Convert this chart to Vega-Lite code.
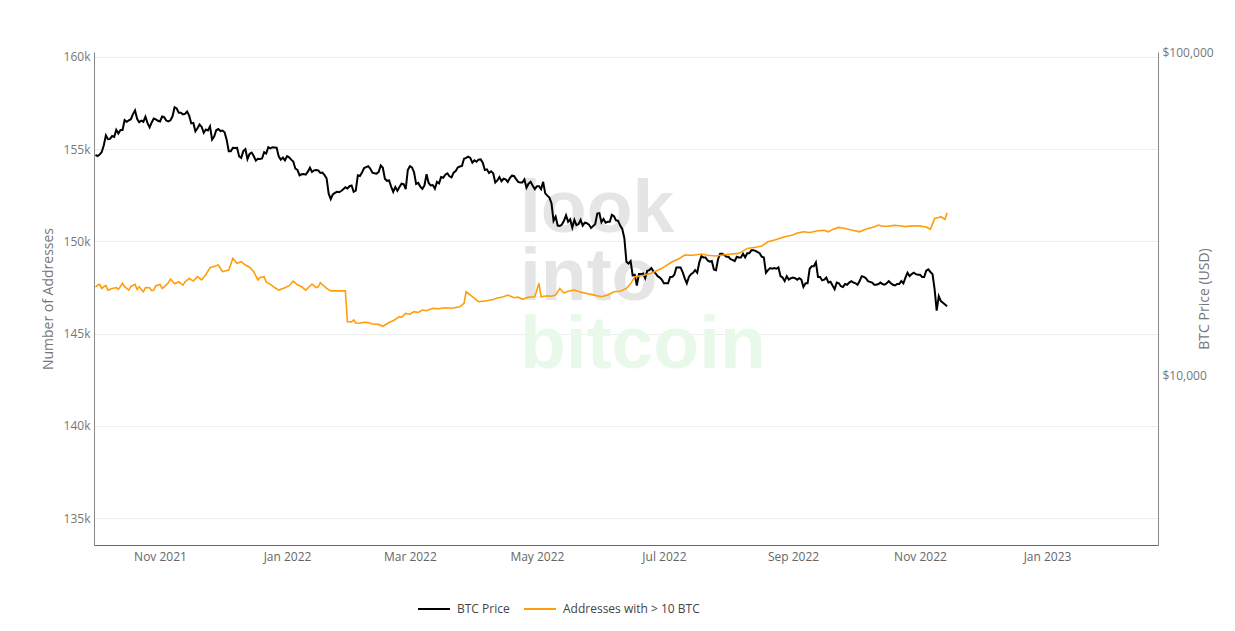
{
  "$schema": "https://vega.github.io/schema/vega-lite/v6.json",
  "autosize": {"type": "none"},
  "width": 1064,
  "height": 493,
  "padding": {"left": 94, "top": 52, "right": 77, "bottom": 86},
  "background": "#ffffff",
  "config": {
    "view": {"stroke": null},
    "font": "Open Sans",
    "axis": {"labelFont": "Open Sans", "titleFont": "Open Sans", "labelColor": "#777777", "titleColor": "#777777", "labelFontSize": 12, "titleFontSize": 14, "titleFontWeight": "normal", "domainColor": "#888888", "ticks": false, "gridColor": "#eeeeee", "gridWidth": 1}
  },
  "datasets": {
    "btc": [
      {"d":"2021-10-01","p":48100},{"d":"2021-10-02","p":47700},{"d":"2021-10-03","p":48200},{"d":"2021-10-04","p":49100},{"d":"2021-10-05","p":51500},{"d":"2021-10-06","p":55300},{"d":"2021-10-07","p":53800},{"d":"2021-10-08","p":53900},{"d":"2021-10-09","p":55000},{"d":"2021-10-10","p":54700},
      {"d":"2021-10-11","p":57500},{"d":"2021-10-12","p":56000},{"d":"2021-10-13","p":57400},{"d":"2021-10-14","p":57400},{"d":"2021-10-15","p":61600},{"d":"2021-10-16","p":60900},{"d":"2021-10-17","p":61500},{"d":"2021-10-18","p":62000},{"d":"2021-10-19","p":64300},{"d":"2021-10-20","p":66000},
      {"d":"2021-10-21","p":62200},{"d":"2021-10-22","p":60700},{"d":"2021-10-23","p":61400},{"d":"2021-10-24","p":60900},{"d":"2021-10-25","p":63100},{"d":"2021-10-26","p":60300},{"d":"2021-10-27","p":58500},{"d":"2021-10-28","p":60600},{"d":"2021-10-29","p":62300},{"d":"2021-10-30","p":61900},
      {"d":"2021-10-31","p":61300},{"d":"2021-11-01","p":61000},{"d":"2021-11-02","p":63200},{"d":"2021-11-03","p":62900},{"d":"2021-11-04","p":61400},{"d":"2021-11-05","p":61000},{"d":"2021-11-06","p":61500},{"d":"2021-11-07","p":63300},{"d":"2021-11-08","p":67500},{"d":"2021-11-09","p":66900},
      {"d":"2021-11-10","p":64900},{"d":"2021-11-11","p":64900},{"d":"2021-11-12","p":64200},{"d":"2021-11-13","p":64400},{"d":"2021-11-14","p":65500},{"d":"2021-11-15","p":63600},{"d":"2021-11-16","p":60200},{"d":"2021-11-17","p":60400},{"d":"2021-11-18","p":56900},{"d":"2021-11-19","p":58100},
      {"d":"2021-11-20","p":59700},{"d":"2021-11-21","p":58700},{"d":"2021-11-22","p":56300},{"d":"2021-11-23","p":57600},{"d":"2021-11-24","p":57200},{"d":"2021-11-25","p":58900},{"d":"2021-11-26","p":53600},{"d":"2021-11-27","p":54800},{"d":"2021-11-28","p":57300},{"d":"2021-11-29","p":57800},
      {"d":"2021-11-30","p":57000},{"d":"2021-12-01","p":57200},{"d":"2021-12-02","p":56500},{"d":"2021-12-03","p":53600},{"d":"2021-12-04","p":49400},{"d":"2021-12-05","p":49400},{"d":"2021-12-06","p":50600},{"d":"2021-12-07","p":50500},{"d":"2021-12-08","p":50600},{"d":"2021-12-09","p":47600},
      {"d":"2021-12-10","p":47100},{"d":"2021-12-11","p":49400},{"d":"2021-12-12","p":50100},{"d":"2021-12-13","p":46700},{"d":"2021-12-14","p":48400},{"d":"2021-12-15","p":48900},{"d":"2021-12-16","p":47700},{"d":"2021-12-17","p":46200},{"d":"2021-12-18","p":46800},{"d":"2021-12-19","p":46700},
      {"d":"2021-12-20","p":46900},{"d":"2021-12-21","p":49000},{"d":"2021-12-22","p":48600},{"d":"2021-12-23","p":50800},{"d":"2021-12-24","p":50400},{"d":"2021-12-25","p":50800},{"d":"2021-12-26","p":50700},{"d":"2021-12-27","p":50600},{"d":"2021-12-28","p":47600},{"d":"2021-12-29","p":46500},
      {"d":"2021-12-30","p":47200},{"d":"2021-12-31","p":46300},{"d":"2022-01-01","p":47700},{"d":"2022-01-02","p":47300},{"d":"2022-01-03","p":46500},{"d":"2022-01-04","p":45900},{"d":"2022-01-05","p":43600},{"d":"2022-01-06","p":43200},{"d":"2022-01-07","p":41600},{"d":"2022-01-08","p":41900},
      {"d":"2022-01-09","p":42000},{"d":"2022-01-10","p":41800},{"d":"2022-01-11","p":42700},{"d":"2022-01-12","p":43900},{"d":"2022-01-13","p":42600},{"d":"2022-01-14","p":43100},{"d":"2022-01-15","p":43200},{"d":"2022-01-16","p":43100},{"d":"2022-01-17","p":42300},{"d":"2022-01-18","p":42400},
      {"d":"2022-01-19","p":41700},{"d":"2022-01-20","p":40700},{"d":"2022-01-21","p":36500},{"d":"2022-01-22","p":35100},{"d":"2022-01-23","p":36300},{"d":"2022-01-24","p":36700},{"d":"2022-01-25","p":37000},{"d":"2022-01-26","p":36900},{"d":"2022-01-27","p":37200},{"d":"2022-01-28","p":37700},
      {"d":"2022-01-29","p":38200},{"d":"2022-01-30","p":37900},{"d":"2022-01-31","p":38500},{"d":"2022-02-01","p":38700},{"d":"2022-02-02","p":37000},{"d":"2022-02-03","p":37300},{"d":"2022-02-04","p":41600},{"d":"2022-02-05","p":41400},{"d":"2022-02-06","p":42400},{"d":"2022-02-07","p":43800},
      {"d":"2022-02-08","p":44100},{"d":"2022-02-09","p":44400},{"d":"2022-02-10","p":43600},{"d":"2022-02-11","p":42400},{"d":"2022-02-12","p":42200},{"d":"2022-02-13","p":42100},{"d":"2022-02-14","p":42600},{"d":"2022-02-15","p":44600},{"d":"2022-02-16","p":43900},{"d":"2022-02-17","p":40600},
      {"d":"2022-02-18","p":40000},{"d":"2022-02-19","p":40100},{"d":"2022-02-20","p":38400},{"d":"2022-02-21","p":37000},{"d":"2022-02-22","p":38300},{"d":"2022-02-23","p":37300},{"d":"2022-02-24","p":38300},{"d":"2022-02-25","p":39200},{"d":"2022-02-26","p":39100},{"d":"2022-02-27","p":37700},
      {"d":"2022-02-28","p":43200},{"d":"2022-03-01","p":44400},{"d":"2022-03-02","p":44000},{"d":"2022-03-03","p":42500},{"d":"2022-03-04","p":39100},{"d":"2022-03-05","p":39400},{"d":"2022-03-06","p":38400},{"d":"2022-03-07","p":37800},{"d":"2022-03-08","p":38700},{"d":"2022-03-09","p":41900},
      {"d":"2022-03-10","p":39400},{"d":"2022-03-11","p":38700},{"d":"2022-03-12","p":38800},{"d":"2022-03-13","p":37800},{"d":"2022-03-14","p":39700},{"d":"2022-03-15","p":39300},{"d":"2022-03-16","p":41100},{"d":"2022-03-17","p":40900},{"d":"2022-03-18","p":41800},{"d":"2022-03-19","p":42200},
      {"d":"2022-03-20","p":41300},{"d":"2022-03-21","p":41000},{"d":"2022-03-22","p":42400},{"d":"2022-03-23","p":42900},{"d":"2022-03-24","p":44000},{"d":"2022-03-25","p":44300},{"d":"2022-03-26","p":44500},{"d":"2022-03-27","p":46800},{"d":"2022-03-28","p":47100},{"d":"2022-03-29","p":47500},
      {"d":"2022-03-30","p":47100},{"d":"2022-03-31","p":45500},{"d":"2022-04-01","p":46300},{"d":"2022-04-02","p":45800},{"d":"2022-04-03","p":46500},{"d":"2022-04-04","p":46600},{"d":"2022-04-05","p":45500},{"d":"2022-04-06","p":43200},{"d":"2022-04-07","p":43400},{"d":"2022-04-08","p":42300},
      {"d":"2022-04-09","p":42800},{"d":"2022-04-10","p":42200},{"d":"2022-04-11","p":39500},{"d":"2022-04-12","p":40100},{"d":"2022-04-13","p":41100},{"d":"2022-04-14","p":39900},{"d":"2022-04-15","p":40600},{"d":"2022-04-16","p":40400},{"d":"2022-04-17","p":39700},{"d":"2022-04-18","p":40800},
      {"d":"2022-04-19","p":41500},{"d":"2022-04-20","p":41400},{"d":"2022-04-21","p":40500},{"d":"2022-04-22","p":39700},{"d":"2022-04-23","p":39500},{"d":"2022-04-24","p":39500},{"d":"2022-04-25","p":40400},{"d":"2022-04-26","p":38100},{"d":"2022-04-27","p":39200},{"d":"2022-04-28","p":39700},
      {"d":"2022-04-29","p":38600},{"d":"2022-04-30","p":37700},{"d":"2022-05-01","p":38500},{"d":"2022-05-02","p":38500},{"d":"2022-05-03","p":37700},{"d":"2022-05-04","p":39700},{"d":"2022-05-05","p":36600},{"d":"2022-05-06","p":36000},{"d":"2022-05-07","p":35500},{"d":"2022-05-08","p":34100},
      {"d":"2022-05-09","p":30100},{"d":"2022-05-10","p":31000},{"d":"2022-05-11","p":29100},{"d":"2022-05-12","p":29000},{"d":"2022-05-13","p":29300},{"d":"2022-05-14","p":30100},{"d":"2022-05-15","p":31300},{"d":"2022-05-16","p":29900},{"d":"2022-05-17","p":30400},{"d":"2022-05-18","p":28700},
      {"d":"2022-05-19","p":30300},{"d":"2022-05-20","p":29200},{"d":"2022-05-21","p":29400},{"d":"2022-05-22","p":30300},{"d":"2022-05-23","p":29100},{"d":"2022-05-24","p":29700},{"d":"2022-05-25","p":29600},{"d":"2022-05-26","p":29300},{"d":"2022-05-27","p":28600},{"d":"2022-05-28","p":29000},
      {"d":"2022-05-29","p":29400},{"d":"2022-05-30","p":31700},{"d":"2022-05-31","p":31800},{"d":"2022-06-01","p":29800},{"d":"2022-06-02","p":30500},{"d":"2022-06-03","p":29700},{"d":"2022-06-04","p":29900},{"d":"2022-06-05","p":29900},{"d":"2022-06-06","p":31400},{"d":"2022-06-07","p":31100},
      {"d":"2022-06-08","p":30200},{"d":"2022-06-09","p":30100},{"d":"2022-06-10","p":29100},{"d":"2022-06-11","p":28400},{"d":"2022-06-12","p":26600},{"d":"2022-06-13","p":22500},{"d":"2022-06-14","p":22200},{"d":"2022-06-15","p":22600},{"d":"2022-06-16","p":20400},{"d":"2022-06-17","p":20500},
      {"d":"2022-06-18","p":19000},{"d":"2022-06-19","p":20600},{"d":"2022-06-20","p":20600},{"d":"2022-06-21","p":20700},{"d":"2022-06-22","p":20000},{"d":"2022-06-23","p":21100},{"d":"2022-06-24","p":21200},{"d":"2022-06-25","p":21500},{"d":"2022-06-26","p":21000},{"d":"2022-06-27","p":20700},
      {"d":"2022-06-28","p":20300},{"d":"2022-06-29","p":20100},{"d":"2022-06-30","p":19800},{"d":"2022-07-01","p":19300},{"d":"2022-07-02","p":19300},{"d":"2022-07-03","p":19300},{"d":"2022-07-04","p":20200},{"d":"2022-07-05","p":20200},{"d":"2022-07-06","p":20500},{"d":"2022-07-07","p":21600},
      {"d":"2022-07-08","p":21600},{"d":"2022-07-09","p":21600},{"d":"2022-07-10","p":20900},{"d":"2022-07-11","p":20000},{"d":"2022-07-12","p":19300},{"d":"2022-07-13","p":20200},{"d":"2022-07-14","p":20600},{"d":"2022-07-15","p":20800},{"d":"2022-07-16","p":21200},{"d":"2022-07-17","p":20800},
      {"d":"2022-07-18","p":22400},{"d":"2022-07-19","p":23400},{"d":"2022-07-20","p":23200},{"d":"2022-07-21","p":23200},{"d":"2022-07-22","p":22700},{"d":"2022-07-23","p":22500},{"d":"2022-07-24","p":22600},{"d":"2022-07-25","p":21300},{"d":"2022-07-26","p":21200},{"d":"2022-07-27","p":22900},
      {"d":"2022-07-28","p":23800},{"d":"2022-07-29","p":23800},{"d":"2022-07-30","p":23600},{"d":"2022-07-31","p":23300},{"d":"2022-08-01","p":23300},{"d":"2022-08-02","p":22900},{"d":"2022-08-03","p":22800},{"d":"2022-08-04","p":22600},{"d":"2022-08-05","p":23300},{"d":"2022-08-06","p":23200},
      {"d":"2022-08-07","p":23200},{"d":"2022-08-08","p":23800},{"d":"2022-08-09","p":23200},{"d":"2022-08-10","p":23900},{"d":"2022-08-11","p":23900},{"d":"2022-08-12","p":24400},{"d":"2022-08-13","p":24400},{"d":"2022-08-14","p":24300},{"d":"2022-08-15","p":24100},{"d":"2022-08-16","p":23900},
      {"d":"2022-08-17","p":23300},{"d":"2022-08-18","p":23200},{"d":"2022-08-19","p":20800},{"d":"2022-08-20","p":21200},{"d":"2022-08-21","p":21500},{"d":"2022-08-22","p":21400},{"d":"2022-08-23","p":21500},{"d":"2022-08-24","p":21400},{"d":"2022-08-25","p":21600},{"d":"2022-08-26","p":20300},
      {"d":"2022-08-27","p":20100},{"d":"2022-08-28","p":19600},{"d":"2022-08-29","p":20300},{"d":"2022-08-30","p":19800},{"d":"2022-08-31","p":20000},{"d":"2022-09-01","p":20100},{"d":"2022-09-02","p":20000},{"d":"2022-09-03","p":19800},{"d":"2022-09-04","p":20000},{"d":"2022-09-05","p":19800},
      {"d":"2022-09-06","p":18800},{"d":"2022-09-07","p":19300},{"d":"2022-09-08","p":19300},{"d":"2022-09-09","p":21400},{"d":"2022-09-10","p":21800},{"d":"2022-09-11","p":21800},{"d":"2022-09-12","p":22400},{"d":"2022-09-13","p":20200},{"d":"2022-09-14","p":20200},{"d":"2022-09-15","p":19700},
      {"d":"2022-09-16","p":19800},{"d":"2022-09-17","p":20100},{"d":"2022-09-18","p":19400},{"d":"2022-09-19","p":19500},{"d":"2022-09-20","p":19000},{"d":"2022-09-21","p":18500},{"d":"2022-09-22","p":19400},{"d":"2022-09-23","p":19300},{"d":"2022-09-24","p":18900},{"d":"2022-09-25","p":18800},
      {"d":"2022-09-26","p":19200},{"d":"2022-09-27","p":19100},{"d":"2022-09-28","p":19400},{"d":"2022-09-29","p":19600},{"d":"2022-09-30","p":19400},{"d":"2022-10-01","p":19300},{"d":"2022-10-02","p":19100},{"d":"2022-10-03","p":19600},{"d":"2022-10-04","p":20300},{"d":"2022-10-05","p":20200},
      {"d":"2022-10-06","p":20000},{"d":"2022-10-07","p":19600},{"d":"2022-10-08","p":19500},{"d":"2022-10-09","p":19400},{"d":"2022-10-10","p":19100},{"d":"2022-10-11","p":19100},{"d":"2022-10-12","p":19200},{"d":"2022-10-13","p":19400},{"d":"2022-10-14","p":19200},{"d":"2022-10-15","p":19100},
      {"d":"2022-10-16","p":19300},{"d":"2022-10-17","p":19600},{"d":"2022-10-18","p":19300},{"d":"2022-10-19","p":19100},{"d":"2022-10-20","p":19000},{"d":"2022-10-21","p":19200},{"d":"2022-10-22","p":19200},{"d":"2022-10-23","p":19600},{"d":"2022-10-24","p":19300},{"d":"2022-10-25","p":20100},
      {"d":"2022-10-26","p":20800},{"d":"2022-10-27","p":20300},{"d":"2022-10-28","p":20600},{"d":"2022-10-29","p":20800},{"d":"2022-10-30","p":20600},{"d":"2022-10-31","p":20500},{"d":"2022-11-01","p":20500},{"d":"2022-11-02","p":20200},{"d":"2022-11-03","p":20200},{"d":"2022-11-04","p":21100},
      {"d":"2022-11-05","p":21300},{"d":"2022-11-06","p":20900},{"d":"2022-11-07","p":20600},{"d":"2022-11-08","p":18500},{"d":"2022-11-09","p":15900},{"d":"2022-11-10","p":17600},{"d":"2022-11-11","p":17000},{"d":"2022-11-12","p":16800},{"d":"2022-11-13","p":16600},{"d":"2022-11-14","p":16400}
    ],
    "addr": [
      {"d":"2021-10-01","a":147540},{"d":"2021-10-02","a":147620},{"d":"2021-10-03","a":147670},{"d":"2021-10-04","a":147450},{"d":"2021-10-05","a":147540},{"d":"2021-10-06","a":147600},{"d":"2021-10-07","a":147360},{"d":"2021-10-09","a":147450},{"d":"2021-10-11","a":147490},{"d":"2021-10-12","a":147400},{"d":"2021-10-14","a":147730},{"d":"2021-10-15","a":147550},{"d":"2021-10-17","a":147360},{"d":"2021-10-18","a":147560},{"d":"2021-10-20","a":147670},{"d":"2021-10-21","a":147400},{"d":"2021-10-22","a":147540},
      {"d":"2021-10-24","a":147270},{"d":"2021-10-25","a":147500},{"d":"2021-10-27","a":147490},{"d":"2021-10-28","a":147330},{"d":"2021-10-29","a":147360},{"d":"2021-10-30","a":147600},{"d":"2021-11-01","a":147670},{"d":"2021-11-02","a":147450},{"d":"2021-11-03","a":147540},{"d":"2021-11-05","a":147760},{"d":"2021-11-06","a":147960},{"d":"2021-11-08","a":147700},{"d":"2021-11-10","a":147810},{"d":"2021-11-12","a":147630},{"d":"2021-11-13","a":147800},{"d":"2021-11-15","a":148000},{"d":"2021-11-17","a":147850},
      {"d":"2021-11-19","a":148090},{"d":"2021-11-21","a":147910},{"d":"2021-11-23","a":148200},{"d":"2021-11-25","a":148570},{"d":"2021-11-27","a":148640},{"d":"2021-11-29","a":148720},{"d":"2021-12-01","a":148360},{"d":"2021-12-04","a":148450},{"d":"2021-12-06","a":149080},{"d":"2021-12-08","a":148810},{"d":"2021-12-10","a":148900},{"d":"2021-12-12","a":148720},{"d":"2021-12-14","a":148600},{"d":"2021-12-16","a":148360},
      {"d":"2021-12-18","a":147910},{"d":"2021-12-19","a":148050},{"d":"2021-12-21","a":148090},{"d":"2021-12-22","a":147800},{"d":"2021-12-24","a":147670},{"d":"2021-12-26","a":147500},{"d":"2021-12-28","a":147360},{"d":"2021-12-31","a":147490},{"d":"2022-01-02","a":147600},{"d":"2022-01-04","a":147850},{"d":"2022-01-06","a":147650},{"d":"2022-01-08","a":147540},{"d":"2022-01-10","a":147360},{"d":"2022-01-13","a":147690},{"d":"2022-01-15","a":147500},{"d":"2022-01-16","a":147540},
      {"d":"2022-01-17","a":147760},{"d":"2022-01-20","a":147450},{"d":"2022-01-22","a":147320},{"d":"2022-01-29","a":147320},{"d":"2022-01-30","a":145650},{"d":"2022-02-01","a":145640},{"d":"2022-02-02","a":145740},{"d":"2022-02-03","a":145580},{"d":"2022-02-05","a":145560},{"d":"2022-02-07","a":145620},{"d":"2022-02-09","a":145600},{"d":"2022-02-11","a":145520},{"d":"2022-02-14","a":145500},{"d":"2022-02-16","a":145400},
      {"d":"2022-02-19","a":145600},{"d":"2022-02-21","a":145700},{"d":"2022-02-24","a":145920},{"d":"2022-02-25","a":145880},{"d":"2022-02-27","a":146100},{"d":"2022-03-01","a":146050},{"d":"2022-03-03","a":146190},{"d":"2022-03-05","a":146150},{"d":"2022-03-07","a":146280},{"d":"2022-03-09","a":146240},{"d":"2022-03-12","a":146370},{"d":"2022-03-15","a":146350},{"d":"2022-03-18","a":146400},{"d":"2022-03-21","a":146380},{"d":"2022-03-25","a":146460},{"d":"2022-03-27","a":146640},{"d":"2022-03-28","a":147270},
      {"d":"2022-03-31","a":147000},{"d":"2022-04-03","a":146730},{"d":"2022-04-05","a":146760},{"d":"2022-04-07","a":146780},{"d":"2022-04-10","a":146850},{"d":"2022-04-12","a":146930},{"d":"2022-04-15","a":147000},{"d":"2022-04-17","a":147090},{"d":"2022-04-20","a":146950},{"d":"2022-04-22","a":146980},{"d":"2022-04-24","a":146860},{"d":"2022-04-27","a":146980},{"d":"2022-04-30","a":147000},{"d":"2022-05-02","a":147730},{"d":"2022-05-03","a":147000},{"d":"2022-05-06","a":147050},{"d":"2022-05-08","a":147030},
      {"d":"2022-05-10","a":147100},{"d":"2022-05-12","a":147450},{"d":"2022-05-14","a":147200},{"d":"2022-05-16","a":147300},{"d":"2022-05-19","a":147360},{"d":"2022-05-22","a":147250},{"d":"2022-05-25","a":147180},{"d":"2022-05-28","a":147100},{"d":"2022-06-01","a":147000},{"d":"2022-06-04","a":147100},{"d":"2022-06-07","a":147270},{"d":"2022-06-10","a":147300},{"d":"2022-06-13","a":147450},{"d":"2022-06-15","a":147700},{"d":"2022-06-17","a":148090},{"d":"2022-06-21","a":148150},{"d":"2022-06-25","a":148270},{"d":"2022-06-30","a":148540},
      {"d":"2022-07-05","a":148900},{"d":"2022-07-08","a":149050},{"d":"2022-07-11","a":149260},{"d":"2022-07-15","a":149250},{"d":"2022-07-19","a":149320},{"d":"2022-07-22","a":149250},{"d":"2022-07-26","a":149210},{"d":"2022-08-01","a":149300},{"d":"2022-08-06","a":149350},{"d":"2022-08-10","a":149620},{"d":"2022-08-14","a":149680},{"d":"2022-08-17","a":149750},{"d":"2022-08-20","a":149980},{"d":"2022-08-24","a":150100},{"d":"2022-08-28","a":150250},
      {"d":"2022-09-01","a":150350},{"d":"2022-09-03","a":150450},{"d":"2022-09-06","a":150520},{"d":"2022-09-09","a":150480},{"d":"2022-09-13","a":150580},{"d":"2022-09-16","a":150600},{"d":"2022-09-18","a":150520},{"d":"2022-09-20","a":150650},{"d":"2022-09-23","a":150760},{"d":"2022-09-26","a":150700},{"d":"2022-09-29","a":150620},{"d":"2022-10-03","a":150520},{"d":"2022-10-05","a":150620},{"d":"2022-10-07","a":150700},{"d":"2022-10-10","a":150780},{"d":"2022-10-12","a":150890},{"d":"2022-10-14","a":150820},{"d":"2022-10-17","a":150830},
      {"d":"2022-10-20","a":150880},{"d":"2022-10-22","a":150850},{"d":"2022-10-25","a":150800},{"d":"2022-10-27","a":150830},{"d":"2022-10-30","a":150850},{"d":"2022-11-01","a":150830},{"d":"2022-11-04","a":150780},{"d":"2022-11-06","a":150660},{"d":"2022-11-08","a":151250},{"d":"2022-11-10","a":151300},{"d":"2022-11-11","a":151340},{"d":"2022-11-13","a":151200},{"d":"2022-11-14","a":151560}
    ]
  },
  "layer": [
    {
      "data": {"values": [{"t": "look", "v": 150510}, {"t": "into", "v": 146820}]},
      "mark": {"type": "text", "align": "left", "baseline": "alphabetic", "font": "Liberation Sans", "fontWeight": "bold", "fontSize": 75, "color": "#e5e5e5"},
      "encoding": {
        "x": {"datum": 1650661200000, "type": "temporal", "scale": {"domain": ["2021-09-30T07:00:00", "2023-02-23T07:00:00"]}, "axis": {"title": null, "format": "%b %Y", "grid": false, "labelPadding": 6, "domainColor": "#666666", "labelColor": "#666666", "tickCount": {"interval": "month", "step": 2}}},
        "y": {"field": "v", "type": "quantitative", "scale": {"domain": [133540, 160270], "nice": false, "zero": false}, "axis": null},
        "text": {"field": "t"}
      }
    },
    {
      "data": {"values": [{"t": "bitcoin", "v": 143140}]},
      "mark": {"type": "text", "align": "left", "baseline": "alphabetic", "font": "Liberation Sans", "fontWeight": "bold", "fontSize": 75, "color": "#e9f9e9"},
      "encoding": {
        "x": {"datum": 1650661200000, "type": "temporal"},
        "y": {"field": "v", "type": "quantitative", "scale": {"domain": [133540, 160270], "nice": false, "zero": false}, "axis": null},
        "text": {"field": "t"}
      }
    },
    {
      "data": {"name": "btc"},
      "mark": {"type": "line", "strokeWidth": 2},
      "encoding": {
        "x": {"field": "d", "type": "temporal"},
        "y": {"field": "p", "type": "quantitative", "scale": {"type": "log", "domain": [3000, 100000], "nice": false}, "axis": {"orient": "right", "title": "BTC Price (USD)", "values": [10000, 100000], "format": "$,.0f", "grid": false, "labelPadding": 4, "titleAngle": 270, "titlePadding": -2}},
        "color": {"datum": "BTC Price", "type": "nominal", "scale": {"domain": ["BTC Price", "Addresses with > 10 BTC"], "range": ["#000000", "#ff9d0a"]}, "legend": {"title": null, "orient": "none", "legendX": 323, "legendY": 540, "direction": "horizontal", "symbolType": "stroke", "symbolSize": 1024, "symbolStrokeWidth": 2, "labelFont": "Open Sans", "labelFontSize": 12, "labelColor": "#444444", "labelOffset": 6, "columnPadding": 10}}
      }
    },
    {
      "data": {"name": "addr"},
      "mark": {"type": "line", "strokeWidth": 1.6},
      "encoding": {
        "x": {"field": "d", "type": "temporal"},
        "y": {"field": "a", "type": "quantitative", "scale": {"domain": [133540, 160270], "nice": false, "zero": false}, "axis": {"orient": "left", "title": "Number of Addresses", "values": [135000, 140000, 145000, 150000, 155000, 160000], "format": "~s", "grid": true, "labelPadding": 4, "titlePadding": 8}},
        "color": {"datum": "Addresses with > 10 BTC", "type": "nominal"}
      }
    }
  ],
  "resolve": {"scale": {"y": "independent"}}
}
